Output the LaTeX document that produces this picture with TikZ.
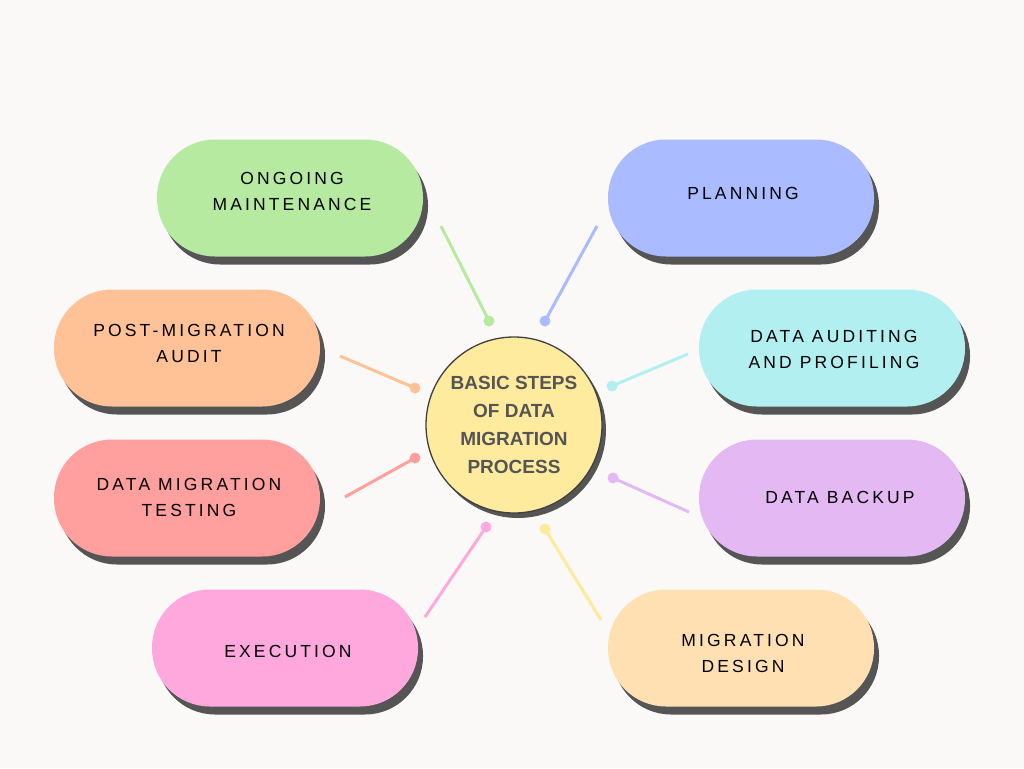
\documentclass[tikz,border=0pt]{standalone}
\usepackage{fontspec}
\setmainfont{Liberation Sans}
\newfontfamily\pillfont[LetterSpace=18]{Liberation Sans}
\newfontfamily\hubfont{Liberation Sans}
\usetikzlibrary{shadows}
\definecolor{bg}{HTML}{FBF9F8}
\definecolor{shd}{HTML}{555555}
\definecolor{cgreen}{HTML}{B5EAA0}
\definecolor{cblue}{HTML}{AABBFF}
\definecolor{cpeach}{HTML}{FFC296}
\definecolor{ccyan}{HTML}{B2EFF0}
\definecolor{cred}{HTML}{FF9F9E}
\definecolor{cpurple}{HTML}{E3B8F3}
\definecolor{cpink}{HTML}{FFA8DE}
\definecolor{cdesign}{HTML}{FFE0B2}
\definecolor{cyellow}{HTML}{FFE99A}
\definecolor{chub}{HTML}{FFEB9E}
\definecolor{hubtext}{HTML}{555555}
\begin{document}
\begin{tikzpicture}[x=1pt,y=-1pt,
  pill/.style={rectangle, rounded corners=58pt, minimum width=266pt, minimum height=117pt,
    inner sep=0pt,
    drop shadow={shadow xshift=5pt, shadow yshift=-8pt, fill=shd, opacity=1}},
  pilltext/.style={align=center, text=black, inner sep=0pt,
    font=\pillfont\fontsize{17.5}{26}\selectfont},
  hub/.style={circle, minimum size=176pt, inner sep=0pt, fill=chub, draw=black!75, line width=1.3pt,
    align=center, text=hubtext, font=\hubfont\bfseries\fontsize{19}{28}\selectfont,
    drop shadow={shadow xshift=4pt, shadow yshift=-5pt, fill=shd, opacity=1}},
  link/.style={line width=3pt},
  dot/.style={circle, inner sep=0pt, minimum size=11pt}
]
\fill[bg] (0,0) rectangle (1024,768);
\useasboundingbox (0,0) rectangle (1024,768);

\node[hub] (hub) at (514,425) {BASIC STEPS\\OF DATA\\MIGRATION\\PROCESS};

\node[pill, fill=cgreen, label={[pilltext,yshift=7pt,xshift=2pt]center:ONGOING\\MAINTENANCE}] (p1) at (290,198) {};
\node[pill, fill=cblue, label={[pilltext,yshift=5pt,xshift=2pt]center:PLANNING}] (p2) at (741,198) {};
\node[pill, fill=cpeach, label={[pilltext,yshift=5pt,xshift=2pt]center:POST-MIGRATION\\AUDIT}] (p3) at (187,348) {};
\node[pill, fill=ccyan, label={[pilltext,yshift=-1pt,xshift=2pt]center:DATA AUDITING\\AND PROFILING}] (p4) at (832,348) {};
\node[pill, fill=cred, label={[pilltext,yshift=1pt,xshift=2pt]center:DATA MIGRATION\\TESTING}] (p5) at (187,498) {};
\node[pill, fill=cpurple, label={[pilltext,yshift=1pt,xshift=8pt]center:DATA BACKUP}] (p6) at (832,498) {};
\node[pill, fill=cpink, label={[pilltext,yshift=-3pt,xshift=3pt]center:EXECUTION}] (p7) at (285,648) {};
\node[pill, fill=cdesign, label={[pilltext,yshift=-5pt,xshift=2pt]center:MIGRATION\\DESIGN}] (p8) at (741,648) {};

% connector ends
\coordinate (a1) at (441,226); \node[dot, fill=cgreen] (d1) at (489,321) {};
\coordinate (a2) at (597,226); \node[dot, fill=cblue] (d2) at (545,321) {};
\coordinate (a3) at (340,356); \node[dot, fill=cpeach] (d3) at (415,388) {};
\coordinate (a4) at (688,354); \node[dot, fill=ccyan] (d4) at (612,386) {};
\coordinate (a5) at (345,497); \node[dot, fill=cred] (d5) at (415,458) {};
\coordinate (a6) at (689,512); \node[dot, fill=cpurple] (d6) at (613,478) {};
\coordinate (a7) at (425,617); \node[dot, fill=cpink] (d7) at (486,527) {};
\coordinate (a8) at (601,620); \node[dot, fill=cyellow] (d8) at (545,529) {};

\draw[link, cgreen] (a1) -- (d1.center);
\draw[link, cblue] (a2) -- (d2.center);
\draw[link, cpeach] (a3) -- (d3.center);
\draw[link, ccyan] (a4) -- (d4.center);
\draw[link, cred] (a5) -- (d5.center);
\draw[link, cpurple] (a6) -- (d6.center);
\draw[link, cpink] (a7) -- (d7.center);
\draw[link, cyellow] (a8) -- (d8.center);
\end{tikzpicture}
\end{document}
